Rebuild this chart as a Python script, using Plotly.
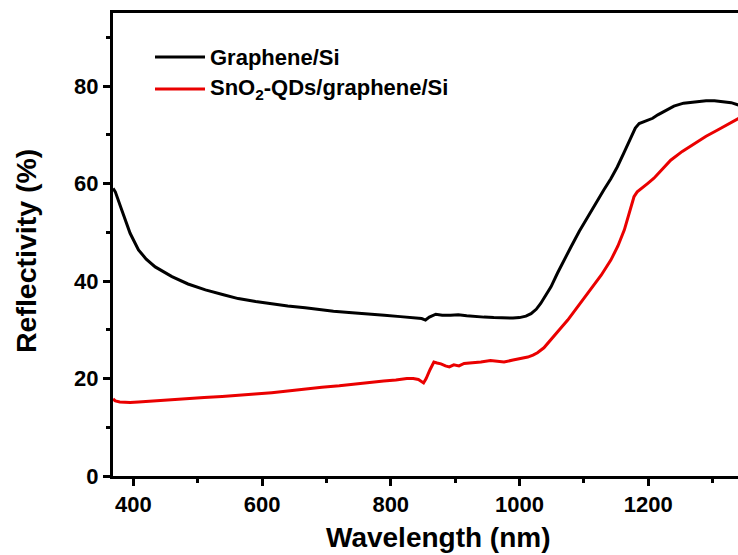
import plotly.graph_objects as go

# Reflectivity spectra (wavelength in nm, reflectivity in %)
wl_graphene = [368.5, 372, 382, 395, 408, 420, 434, 460, 485, 512, 540, 563, 590, 615, 640,
               667, 690, 711, 740, 763, 790, 815, 835, 848, 854, 860, 870, 880, 893, 905,
               918, 930, 945, 960, 975, 990, 1000, 1010, 1018, 1026, 1033, 1040, 1049, 1059,
               1070, 1080, 1093, 1106, 1118, 1131, 1142, 1152, 1163, 1173, 1180, 1186, 1199,
               1207, 1215, 1228, 1240, 1255, 1272, 1290, 1303, 1318, 1329, 1341]
r_graphene = [59.0, 58.3, 54.6, 49.8, 46.4, 44.5, 42.9, 40.9, 39.4, 38.2, 37.2, 36.4, 35.8,
              35.3, 34.9, 34.5, 34.1, 33.8, 33.5, 33.2, 33.0, 32.7, 32.5, 32.3, 32.0, 32.6,
              33.2, 33.0, 33.0, 33.1, 32.9, 32.7, 32.6, 32.5, 32.4, 32.4, 32.5, 32.8, 33.3,
              34.2, 35.4, 36.8, 38.8, 41.6, 44.5, 47.0, 50.2, 53.2, 56.0, 58.7, 61.0, 63.4,
              66.5, 69.6, 71.4, 72.3, 72.9, 73.4, 74.1, 75.1, 75.9, 76.5, 76.8, 77.0, 77.0,
              76.8, 76.6, 76.1]

wl_sno2 = [368.5, 372, 379, 395, 408, 430, 460, 480, 496, 510, 538, 565, 589, 615, 641, 667,
           693, 720, 745, 770, 789, 808, 825, 835, 843, 851, 855, 861, 867, 872, 878, 885,
           891, 898, 906, 914, 925, 940, 955, 966, 976, 990, 1005, 1013, 1021, 1028, 1038,
           1049, 1062, 1075, 1093, 1111, 1127, 1142, 1153, 1163, 1171, 1178, 1183, 1189,
           1199, 1209, 1222, 1235, 1253, 1272, 1290, 1308, 1325, 1341]
r_sno2 = [15.8, 15.4, 15.2, 15.1, 15.2, 15.4, 15.7, 15.9, 16.1, 16.1, 16.3, 16.5, 16.8, 17.1,
          17.5, 17.8, 18.2, 18.5, 18.9, 19.2, 19.5, 19.7, 20.0, 20.0, 19.8, 19.1, 20.0, 21.8,
          23.4, 23.2, 23.0, 22.6, 22.4, 22.8, 22.6, 23.1, 23.2, 23.4, 23.7, 23.5, 23.4, 23.8,
          24.1, 24.4, 24.8, 25.3, 26.3, 27.9, 30.0, 32.0, 35.1, 38.2, 41.2, 44.3, 47.2, 50.5,
          53.9, 57.3, 58.3, 59.0, 60.0, 61.1, 62.9, 64.8, 66.6, 68.2, 69.7, 71.0, 72.3, 73.4]

x_ticks = [400, 600, 800, 1000, 1200]
y_ticks = [0, 20, 40, 60, 80]

FONT = "Arial, Liberation Sans, sans-serif"
RED = "#ea0000"

fig = go.Figure()
fig.add_trace(go.Scatter(x=wl_graphene, y=r_graphene, mode="lines",
                         line=dict(color="black", width=3), name="Graphene/Si"))
fig.add_trace(go.Scatter(x=wl_sno2, y=r_sno2, mode="lines",
                         line=dict(color=RED, width=3), name="SnO<sub>2</sub>-QDs/graphene/Si"))

axis_common = dict(
    showgrid=False, zeroline=False, showline=True, linecolor="black", linewidth=3,
    ticks="outside", ticklen=7, tickwidth=3, tickcolor="black",
    tickfont=dict(family=FONT, size=22, color="black", weight="bold"),
)

fig.update_xaxes(range=[368.4, 1339.6], tickvals=x_ticks, mirror=True,
                 minor=dict(ticks="outside", ticklen=4, tickwidth=3, tickcolor="black",
                            tick0=300, dtick=200),
                 **axis_common)
fig.update_yaxes(range=[0, 95], tickvals=y_ticks, mirror=False,
                 minor=dict(ticks="outside", ticklen=4, tickwidth=3, tickcolor="black",
                            tick0=10, dtick=20),
                 **axis_common)

# Legend drawn as line samples with labels
legend_items = [("Graphene/Si", "black", 57), ("SnO<sub>2</sub>-QDs/graphene/Si", RED, 89)]
plot_l, plot_t, plot_w, plot_h = 113, 13, 625, 463


def px_to_paper(px, py):
    return (px - plot_l) / plot_w, 1 - (py - plot_t) / plot_h


for label, color, py in legend_items:
    x0, y0 = px_to_paper(155, py)
    x1, _ = px_to_paper(205, py)
    fig.add_shape(type="line", xref="paper", yref="paper", x0=x0, x1=x1, y0=y0, y1=y0,
                  line=dict(color=color, width=3))
    tx, _ = px_to_paper(208, py)
    fig.add_annotation(xref="paper", yref="paper", x=tx, y=y0, xanchor="left",
                       yanchor="middle", showarrow=False, text=f"<b>{label}</b>",
                       font=dict(family=FONT, size=22, color="black"))

# Axis titles
tx, ty = px_to_paper(438, 537)
fig.add_annotation(xref="paper", yref="paper", x=tx, y=ty, showarrow=False,
                   text="<b>Wavelength (nm)</b>", xanchor="center", yanchor="middle",
                   font=dict(family=FONT, size=28, color="black"))
tx, ty = px_to_paper(26, 251)
fig.add_annotation(xref="paper", yref="paper", x=tx, y=ty, showarrow=False,
                   text="<b>Reflectivity (%)</b>", textangle=-90, xanchor="center",
                   yanchor="middle", font=dict(family=FONT, size=28.5, color="black"))

fig.update_layout(
    width=738, height=555, showlegend=False,
    margin=dict(l=113, r=0, t=13, b=79),
    paper_bgcolor="white", plot_bgcolor="white",
)

fig.write_html("out.html")
